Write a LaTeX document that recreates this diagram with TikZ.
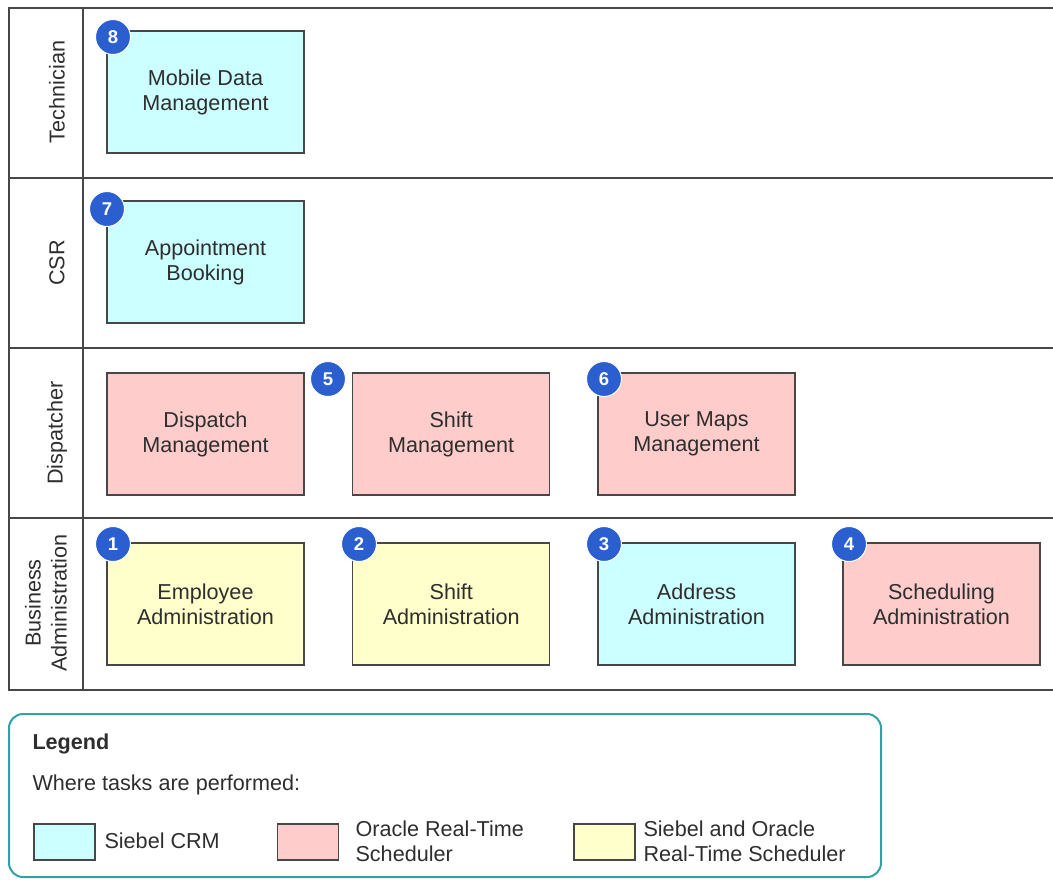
\documentclass[tikz,border=0pt]{standalone}
\usepackage{fontspec}
\setmainfont{Liberation Sans}
\usetikzlibrary{positioning}
\definecolor{crmcyan}{HTML}{CCFFFF}
\definecolor{rtspink}{HTML}{FFCCCC}
\definecolor{bothyellow}{HTML}{FFFFCC}
\definecolor{badgeblue}{HTML}{2B5FCF}
\definecolor{lanegray}{HTML}{474747}
\definecolor{legendteal}{HTML}{2FA3A3}
\definecolor{inkgray}{HTML}{2E2E2E}
\begin{document}
\begin{tikzpicture}[x=1pt, y=-1pt,
        task/.style={draw=lanegray, line width=1.5pt, minimum width=197pt, minimum height=122pt,
            align=center, text=inkgray, font=\fontsize{21.6}{25}\selectfont},
        badge/.style={circle, fill=badgeblue, draw=white, line width=1pt, minimum size=35pt,
            inner sep=0pt, text=white, font=\fontsize{18.5}{18.5}\selectfont\bfseries},
        lanelabel/.style={rotate=90, align=center, text=inkgray, font=\fontsize{21.6}{26}\selectfont},
        swatch/.style={draw=lanegray, line width=1.2pt, minimum width=61pt, minimum height=36pt},
        legtext/.style={anchor=west, align=left, text=inkgray, font=\fontsize{21.6}{25}\selectfont}]
    \useasboundingbox (0,0) rectangle (1053,879);
    % swimlanes
    \draw[lanegray, line width=2pt] (1053,8) -- (9,8) -- (9,690) -- (1053,690);
    \draw[lanegray, line width=2pt] (83,8) -- (83,690);
    \foreach \y in {178, 348, 518} {
        \draw[lanegray, line width=2pt] (9,\y) -- (1053,\y);
    }
    \node[lanelabel] (technician) at (57,92) {Technician};
    \node[lanelabel] (csr) at (57,263) {CSR};
    \node[lanelabel] (dispatcher) at (57,433) {Dispatcher};
    \node[lanelabel] (busadmin) at (46,603) {Business\\Administration};
    % tasks
    \node[task, fill=crmcyan] (mobile) at (205.5,92) {Mobile Data\\Management};
    \node[task, fill=crmcyan] (booking) at (205.5,262) {Appointment\\Booking};
    \node[task, fill=rtspink] (dispatch) at (205.5,434) {Dispatch\\Management};
    \node[task, fill=rtspink] (shiftmgmt) at (451.2,434) {Shift\\Management};
    \node[task, fill=rtspink] (usermaps) at (696.5,434) {User Maps\\Management};
    \node[task, fill=bothyellow] (employee) at (205.5,604) {Employee\\Administration};
    \node[task, fill=bothyellow] (shiftadmin) at (451.2,604) {Shift\\Administration};
    \node[task, fill=crmcyan] (address) at (696.5,604) {Address\\Administration};
    \node[task, fill=rtspink] (scheduling) at (941.5,604) {Scheduling\\Administration};
    % step numbers
    \node[badge] (b1) at (113,544) {1};
    \node[badge] (b2) at (359,544) {2};
    \node[badge] (b3) at (604,544) {3};
    \node[badge] (b4) at (849,544) {4};
    \node[badge] (b5) at (328,379) {5};
    \node[badge] (b6) at (604,379) {6};
    \node[badge] (b7) at (107,209) {7};
    \node[badge] (b8) at (113,37) {8};
    % legend
    \draw[legendteal, line width=2pt, rounded corners=14pt] (9,714) rectangle (881,877);
    \node[legtext, font=\fontsize{21.6}{25}\selectfont\bfseries] (legtitle) at (29,744) {Legend};
    \node[legtext] (legnote) at (29,785) {Where tasks are performed:};
    \node[swatch, fill=crmcyan] (swcrm) at (64.5,842) {};
    \node[legtext] (txcrm) at (101,841) {Siebel CRM};
    \node[swatch, fill=rtspink] (swrts) at (308,842) {};
    \node[legtext] (txrts) at (352,841) {Oracle Real-Time\\Scheduler};
    \node[swatch, fill=bothyellow] (swboth) at (604.5,842) {};
    \node[legtext] (txboth) at (640,841) {Siebel and Oracle\\Real-Time Scheduler};
\end{tikzpicture}
\end{document}
